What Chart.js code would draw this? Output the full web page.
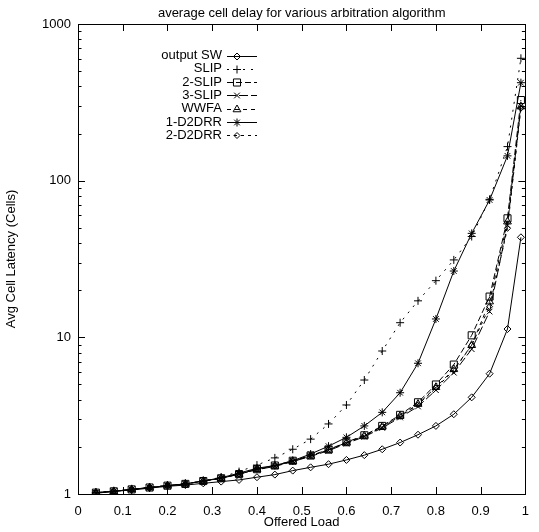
<!DOCTYPE html>
<html><head><meta charset="utf-8">
<script src="https://cdn.jsdelivr.net/npm/chart.js@4.4.0/dist/chart.umd.min.js"></script>
<style>html,body{margin:0;padding:0;background:#fff;}canvas{display:block;}</style>
</head><body>
<canvas id="c" width="539" height="532"></canvas>
<script>
// ---- data ----
const offeredLoad = [0.04,0.08,0.12,0.16,0.20,0.24,0.28,0.32,0.36,0.40,0.44,0.48,0.52,0.56,0.60,0.64,0.68,0.72,0.76,0.80,0.84,0.88,0.92,0.96,0.99];
const outputSW = [1.01,1.04,1.06,1.09,1.12,1.14,1.17,1.20,1.23,1.28,1.33,1.41,1.48,1.55,1.65,1.77,1.93,2.13,2.39,2.72,3.23,4.14,5.86,11.3,43.5];
const slip     = [1.02,1.04,1.07,1.10,1.13,1.16,1.21,1.28,1.39,1.53,1.70,1.93,2.24,2.80,3.70,5.34,8.18,12.4,17.1,23.0,31.2,44,76,165,604];
const slip2    = [1.02,1.04,1.07,1.10,1.13,1.16,1.21,1.26,1.34,1.44,1.52,1.63,1.76,1.92,2.14,2.37,2.72,3.20,3.85,5.0,6.7,10.3,18.2,57.5,327];
const slip3    = [1.02,1.04,1.07,1.10,1.13,1.16,1.21,1.26,1.34,1.43,1.50,1.61,1.74,1.89,2.10,2.32,2.64,3.08,3.62,4.6,5.95,8.4,14.6,52,300];
const wwfa     = [1.02,1.04,1.07,1.10,1.13,1.16,1.21,1.26,1.34,1.44,1.51,1.62,1.75,1.91,2.13,2.35,2.69,3.15,3.75,4.8,6.25,8.9,16.9,54.7,297];
const d2drr1   = [1.02,1.04,1.07,1.10,1.13,1.16,1.21,1.27,1.36,1.46,1.52,1.63,1.80,2.02,2.30,2.72,3.32,4.43,6.83,13.1,26.5,46.1,75.3,144,422];
const d2drr2   = [1.02,1.04,1.07,1.10,1.13,1.16,1.21,1.26,1.34,1.44,1.51,1.62,1.75,1.91,2.12,2.34,2.68,3.13,3.72,4.75,6.15,8.9,15.7,49.6,290];
const seriesNames = ['output SW','SLIP','2-SLIP','3-SLIP','WWFA','1-D2DRR','2-D2DRR'];
const yTickValues = [1,10,100,1000];
const xTickValues = [0,0.1,0.2,0.3,0.4,0.5,0.6,0.7,0.8,0.9,1];
const chartTitle = 'average cell delay for various arbitration algorithm';
const xTitle = 'Offered Load';
const yTitle = 'Avg Cell Latency (Cells)';

// ---- styles ----
const FONT = 'Liberation Sans, Arial, Helvetica, sans-serif';
const seriesValues = [outputSW, slip, slip2, slip3, wwfa, d2drr1, d2drr2];
const styles = [
  {pointStyle:'rectRot', radius:3.5, dash:[]},
  {pointStyle:'cross', radius:4, dash:[2,6]},
  {pointStyle:'rect', radius:5, dash:[6,3]},
  {pointStyle:'crossRot', radius:4, dash:[9,3]},
  {pointStyle:'triangle', radius:4.5, dash:[4,4]},
  {pointStyle:'star', radius:4, dash:[]},
  {pointStyle:'rectRot', radius:3, dash:[3,4]}
];

const datasets = seriesNames.map((name, i) => ({
  label: name,
  data: offeredLoad.map((x, j) => ({x: x, y: seriesValues[i][j]})),
  borderColor: '#000',
  backgroundColor: 'rgba(0,0,0,0)',
  borderWidth: 1,
  borderDash: styles[i].dash,
  pointStyle: styles[i].pointStyle,
  pointRadius: styles[i].radius,
  pointBorderColor: '#000',
  pointBackgroundColor: 'rgba(0,0,0,0)',
  pointBorderWidth: 1,
  tension: 0,
  fill: false
}));

function drawMarker(ctx, style, r, x, y) {
  if (Chart.helpers && Chart.helpers.drawPoint) {
    ctx.save();
    ctx.strokeStyle = '#000'; ctx.fillStyle = 'rgba(0,0,0,0)'; ctx.lineWidth = 1; ctx.setLineDash([]);
    Chart.helpers.drawPoint(ctx, {pointStyle: style, radius: r, rotation: 0, borderWidth: 1}, x, y);
    ctx.restore();
  }
}

const framePlugin = {
  id: 'frame',
  afterDraw(chart) {
    const ctx = chart.ctx;
    const a = chart.chartArea;
    const xs = chart.scales.x, ys = chart.scales.y;
    ctx.save();
    ctx.strokeStyle = '#000';
    ctx.lineWidth = 1;
    ctx.setLineDash([]);
    ctx.strokeRect(Math.round(a.left) + 0.5, Math.round(a.top) + 0.5, Math.round(a.right - a.left), Math.round(a.bottom - a.top));
    const major = 7, minor = 3.5;
    ctx.beginPath();
    xTickValues.forEach(v => {
      const px = Math.round(xs.getPixelForValue(v)) + 0.5;
      ctx.moveTo(px, a.bottom); ctx.lineTo(px, a.bottom - major);
      ctx.moveTo(px, a.top); ctx.lineTo(px, a.top + major);
    });
    yTickValues.forEach(v => {
      const py = Math.round(ys.getPixelForValue(v)) + 0.5;
      ctx.moveTo(a.left, py); ctx.lineTo(a.left + major, py);
      ctx.moveTo(a.right, py); ctx.lineTo(a.right - major, py);
    });
    for (let d = 1; d < 1000; d *= 10) {
      for (let k = 2; k <= 9; k++) {
        const py = Math.round(ys.getPixelForValue(k * d)) + 0.5;
        ctx.moveTo(a.left, py); ctx.lineTo(a.left + minor, py);
        ctx.moveTo(a.right, py); ctx.lineTo(a.right - minor, py);
      }
    }
    ctx.stroke();

    // title
    ctx.fillStyle = '#000';
    ctx.font = '13px ' + FONT;
    ctx.textAlign = 'center';
    ctx.textBaseline = 'middle';
    ctx.fillText(chartTitle, (a.left + a.right) / 2, 13);

    // legend (gnuplot style)
    const textRight = 222, lineL = 227, lineR = 257, markX = 237;
    const y0 = 55.5, dy = 13.3;
    seriesNames.forEach((name, i) => {
      const y = y0 + i * dy;
      ctx.fillStyle = '#000';
      ctx.textAlign = 'right';
      ctx.textBaseline = 'middle';
      ctx.font = '13px ' + FONT;
      ctx.fillText(name, textRight, y);
      ctx.beginPath();
      ctx.setLineDash(styles[i].dash);
      ctx.moveTo(lineL, Math.round(y) + 0.5);
      ctx.lineTo(lineR, Math.round(y) + 0.5);
      ctx.stroke();
      ctx.setLineDash([]);
      drawMarker(ctx, styles[i].pointStyle, styles[i].radius, markX, Math.round(y) + 0.5);
    });
    ctx.restore();
  }
};

new Chart(document.getElementById('c'), {
  type: 'line',
  data: {datasets},
  options: {
    responsive: false,
    animation: false,
    devicePixelRatio: 1,
    layout: {padding: {left: 0, right: 7, top: 24, bottom: 0}},
    plugins: {legend: {display: false}, title: {display: false}, tooltip: {enabled: false}},
    scales: {
      x: {
        type: 'linear', min: 0, max: 1,
        grid: {display: false, drawTicks: false},
        border: {display: false},
        afterBuildTicks: s => { s.ticks = xTickValues.map(v => ({value: v})); },
        ticks: {autoSkip: false, maxRotation: 0, padding: 10, color: '#000', font: {family: FONT, size: 13},
                callback: v => String(Number(Number(v).toFixed(1)))},
        title: {display: true, text: xTitle, color: '#000', font: {family: FONT, size: 13}, padding: {top: 0, bottom: 2}},
        afterFit: s => { s.height = 38; }
      },
      y: {
        type: 'logarithmic', min: 1, max: 1000,
        grid: {display: false, drawTicks: false},
        border: {display: false},
        afterBuildTicks: s => { s.ticks = yTickValues.map(v => ({value: v})); },
        ticks: {autoSkip: false, padding: 7, color: '#000', font: {family: FONT, size: 13},
                callback: v => String(v)},
        title: {display: true, text: yTitle, color: '#000', font: {family: FONT, size: 13}, padding: {top: 4, bottom: 0}},
        afterFit: s => { s.width = 78; }
      }
    }
  },
  plugins: [framePlugin]
});
</script>
</body></html>
